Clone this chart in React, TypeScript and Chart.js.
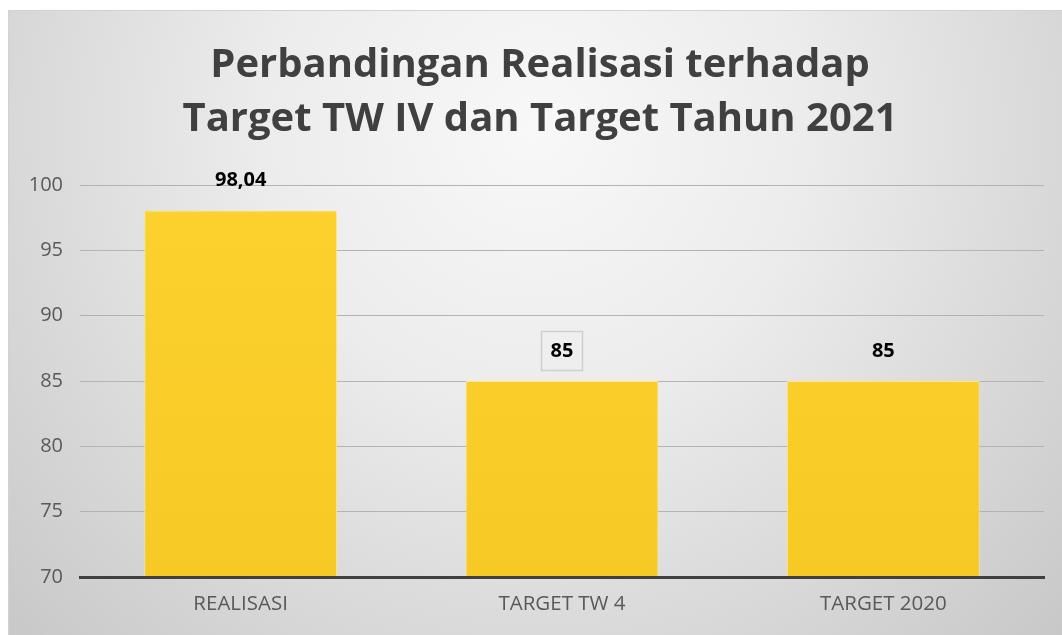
import React, { useEffect, useRef } from "react";
import { Chart, registerables } from "chart.js";

Chart.register(...registerables);

const categories = ["REALISASI", "TARGET TW 4", "TARGET 2020"];
const values = [98.04, 85, 85];
const valueLabels = ["98,04", "85", "85"];
const titleLines = ["Perbandingan Realisasi terhadap", "Target TW IV dan Target Tahun 2021"];

const FONT = "'Open Sans', 'Noto Sans', sans-serif";

const bgPlugin = {
  id: "bgPlugin",
  beforeDraw(chart: any) {
    const { ctx, width, height } = chart;
    ctx.save();
    ctx.fillStyle = "#ffffff";
    ctx.fillRect(0, 0, width, height);
    const g = ctx.createRadialGradient(535, 130, 0, 535, 130, 780);
    g.addColorStop(0, "#f8f8f8");
    g.addColorStop(0.35, "#ececec");
    g.addColorStop(1, "#c4c4c4");
    ctx.fillStyle = g;
    ctx.fillRect(8, 10, width - 8, height - 10);
    ctx.strokeStyle = "#d2d2d2";
    ctx.lineWidth = 1;
    ctx.beginPath();
    ctx.moveTo(8.5, height);
    ctx.lineTo(8.5, 10.5);
    ctx.lineTo(width, 10.5);
    ctx.stroke();
    // title
    ctx.fillStyle = "#404040";
    ctx.font = `bold 40px ${FONT}`;
    ctx.textAlign = "center";
    ctx.textBaseline = "alphabetic";
    ctx.fillText(titleLines[0], 540, 77);
    ctx.fillText(titleLines[1], 540, 131);
    ctx.restore();
  },
};

const labelPlugin = {
  id: "labelPlugin",
  afterDatasetsDraw(chart: any) {
    const { ctx } = chart;
    const meta = chart.getDatasetMeta(0);
    ctx.save();
    ctx.font = `bold 20px ${FONT}`;
    ctx.fillStyle = "#000000";
    ctx.textAlign = "center";
    ctx.textBaseline = "middle";
    meta.data.forEach((bar: any, i: number) => {
      const y = bar.y - 30;
      if (i === 1) {
        ctx.strokeStyle = "#cfcfcf";
        ctx.lineWidth = 1.5;
        ctx.strokeRect(Math.round(bar.x) - 20.5, y - 19.5, 41, 39);
      }
      ctx.fillText(valueLabels[i], bar.x, y);
    });
    ctx.restore();
  },
};

export default function App() {
  const ref = useRef<HTMLCanvasElement>(null);
  useEffect(() => {
    document.body.style.margin = "0";
    const canvas = ref.current!;
    const ctx = canvas.getContext("2d")!;
    const grad = ctx.createLinearGradient(0, 180, 0, 580);
    grad.addColorStop(0, "#fdd22e");
    grad.addColorStop(1, "#f7c925");
    const chart = new Chart(canvas, {
      type: "bar",
      data: {
        labels: categories,
        datasets: [
          {
            data: values,
            backgroundColor: grad,
            borderColor: "#fde58a",
            borderWidth: 1,
            categoryPercentage: 1,
            barPercentage: 0.6,
          },
        ],
      },
      options: {
        responsive: false,
        animation: false,
        devicePixelRatio: 1,
        layout: { padding: { top: 185, left: 0, right: 18, bottom: 0 } },
        plugins: {
          legend: { display: false },
          title: { display: false },
          tooltip: { enabled: false },
        },
        scales: {
          x: {
            grid: { display: false, drawTicks: false },
            border: { display: true, color: "#404040", width: 3, z: 1 },
            ticks: {
              color: "#595959",
              font: { family: FONT, size: 20.5 },
              padding: 15,
            },
            afterFit(scale: any) {
              scale.height = 58;
            },
          },
          y: {
            min: 70,
            max: 100,
            ticks: {
              stepSize: 5,
              color: "#595959",
              font: { family: FONT, size: 20 },
              padding: 17,
            },
            grid: { color: "#b3b3b3", lineWidth: 1, drawTicks: false },
            border: { display: false },
            afterFit(scale: any) {
              scale.width = 80;
            },
          },
        },
      },
      plugins: [bgPlugin, labelPlugin],
    });
    return () => chart.destroy();
  }, []);
  return (
    <canvas
      ref={ref}
      width={1062}
      height={635}
      style={{ display: "block", width: 1062, height: 635 }}
    />
  );
}
